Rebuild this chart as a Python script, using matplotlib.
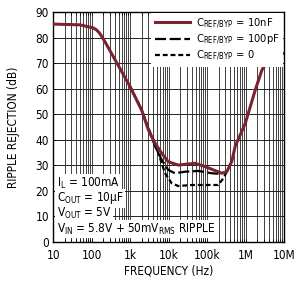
import matplotlib
matplotlib.use("Agg")
from matplotlib import pyplot as plt
from matplotlib.ticker import LogLocator, FixedLocator, NullFormatter

plt.rcParams['font.family'] = ['Liberation Sans Narrow', 'DejaVu Sans']
plt.rcParams['font.stretch'] = 'condensed'
plt.rcParams['mathtext.fontset'] = 'custom'
plt.rcParams['mathtext.rm'] = 'DejaVu Sans:stretch=condensed'
plt.rcParams['mathtext.it'] = 'DejaVu Sans:stretch=condensed'

# ripple rejection (dB) vs frequency (Hz)
f_10nf = [10, 50, 110, 135, 166, 220, 368, 1000, 2000, 3000, 4470, 6650, 9800,
          17800, 48600, 89000, 240e3, 325e3, 437e3, 537e3, 980e3, 1.78e6,
          2.65e6, 3.9e6, 7.1e6, 1e7]
db_10nf = [85.3, 85.0, 83.8, 83.0, 81.5, 78.5, 72.5, 60.8, 51.6, 43.8, 38.6, 34.7,
           31.4, 30.1, 30.8, 29.5, 26.9, 27.5, 31.5, 37.5, 46.4, 59.5,
           67.3, 71.2, 73.8, 73.8]

f_100pf = [1000, 2000, 2500, 4470, 6650, 9800, 14600, 26800, 59600, 131e3, 240e3]
db_100pf = [60.8, 51.6, 47.5, 37.4, 32.1, 28.2, 26.9, 27.5, 27.8, 26.9, 26.6]

f_0 = [1000, 2000, 2500, 3650, 5400, 8100, 12000, 17800, 40000, 107e3, 195e3,
       264e3, 325e3]
db_0 = [60.8, 51.6, 47.5, 41.3, 34.7, 26.9, 23.0, 21.9, 22.3, 22.3, 22.3,
        24.9, 27.5]

xticks = [10, 100, 1e3, 1e4, 1e5, 1e6, 1e7]
xticklabels = ['10', '100', '1k', '10k', '100k', '1M', '10M']
yticks = [0, 10, 20, 30, 40, 50, 60, 70, 80, 90]

red = '#7b2331'

fig = plt.figure(figsize=(3.0, 2.81), dpi=100)
ax = fig.add_axes([0.177, 0.139, 0.770, 0.818])

ax.plot(f_0, db_0, color='black', lw=1.6, dashes=(2.2, 1.3),
        label=r'C$_{\mathrm{REF/BYP}}$ = 0', zorder=3)
ax.plot(f_100pf, db_100pf, color='black', lw=1.6, dashes=(5, 1.6),
        label=r'C$_{\mathrm{REF/BYP}}$ = 100pF', zorder=3)
ax.plot(f_10nf, db_10nf, color=red, lw=2.2,
        label=r'C$_{\mathrm{REF/BYP}}$ = 10nF', zorder=4)

ax.set_xscale('log')
ax.set_xlim(10, 1e7)
ax.set_ylim(0, 90)
ax.xaxis.set_major_locator(FixedLocator(xticks))
ax.set_xticklabels(xticklabels)
ax.xaxis.set_minor_locator(LogLocator(base=10, subs=range(2, 10), numticks=20))
ax.xaxis.set_minor_formatter(NullFormatter())
ax.set_yticks(yticks)

ax.grid(True, which='both', axis='x', color='#222222', lw=0.6)
ax.grid(True, which='major', axis='y', color='#222222', lw=0.7)
ax.tick_params(which='both', direction='in', labelsize=8.5, length=2, width=0.5,
               top=True)
ax.tick_params(axis='x', pad=5)
ax.tick_params(axis='y', pad=3)
for s in ax.spines.values():
    s.set_linewidth(1.0)

ax.set_xlabel('FREQUENCY (Hz)', fontsize=8.5, labelpad=2)
ax.set_ylabel('RIPPLE REJECTION (dB)', fontsize=8.5, labelpad=11)

h, l = ax.get_legend_handles_labels()
leg = ax.legend(h[::-1], l[::-1], loc='upper right', fontsize=8,
                frameon=True, fancybox=False, framealpha=1, edgecolor='none',
                borderaxespad=0.1, borderpad=0.3, handlelength=3.2,
                handletextpad=0.5, labelspacing=0.2)
leg.set_zorder(5)

box = dict(facecolor='white', edgecolor='none', pad=1.0)
ax.text(0.015, 0.255, 'I$_{\\mathrm{L}}$ = 100mA', transform=ax.transAxes,
        fontsize=8.5, va='center', bbox=box, zorder=5)
ax.text(0.015, 0.190, 'C$_{\\mathrm{OUT}}$ = 10µF', transform=ax.transAxes,
        fontsize=8.5, va='center', bbox=box, zorder=5)
ax.text(0.015, 0.125, 'V$_{\\mathrm{OUT}}$ = 5V', transform=ax.transAxes,
        fontsize=8.5, va='center', bbox=box, zorder=5)
ax.text(0.015, 0.055, 'V$_{\\mathrm{IN}}$ = 5.8V + 50mV$_{\\mathrm{RMS}}$ RIPPLE',
        transform=ax.transAxes, fontsize=8.5, va='center', bbox=box, zorder=5)

fig.savefig('out.png', dpi=100)
